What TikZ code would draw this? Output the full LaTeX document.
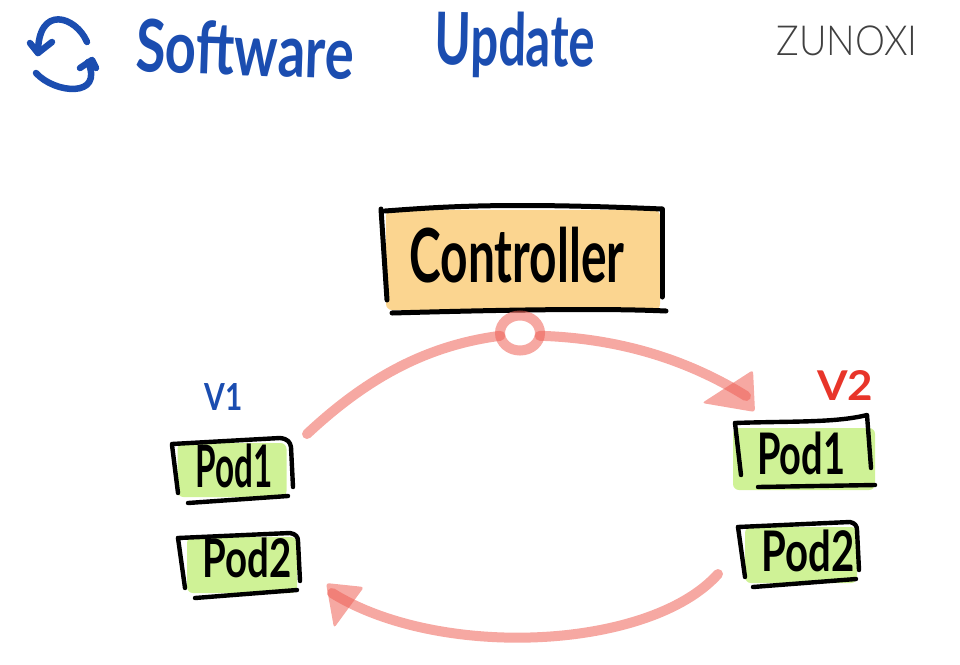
\documentclass[tikz,border=0pt]{standalone}
\usepackage{fontspec}
\usepackage{graphicx}
\usetikzlibrary{shapes.geometric}
\setmainfont{Lato}
\newfontfamily\thinfont{Lato Light}
\definecolor{inkblue}{HTML}{1B4DB0}
\definecolor{inkred}{HTML}{E8352A}
\definecolor{salmon}{HTML}{EE6055}
\definecolor{orangefill}{HTML}{FBD590}
\definecolor{greenfill}{HTML}{CFF296}
\newcommand{\fitbox}[3]{\resizebox*{#1pt}{#2pt}{#3}}
\tikzset{
  x=1pt,y=-1pt,
  hand/.style={draw=black,line width=5pt,line cap=round,line join=round},
  handthin/.style={hand,line width=4.4pt},
  blueink/.style={draw=inkblue,line width=6.5pt,line cap=round,line join=round},
  flow/.style={draw=salmon,opacity=.55,line width=10pt,line cap=round,line join=round},
  flowtip/.style={fill=salmon,opacity=.55,rounded corners=3pt},
  txt/.style={inner sep=0pt,outer sep=0pt},
  swatch/.style={inner sep=0pt,outer sep=0pt,rounded corners=6pt},
}
\begin{document}
\begin{tikzpicture}
\useasboundingbox (0,0) rectangle (960,664);
% refresh icon
\coordinate (icA) at (87,42); \coordinate (icB) at (38,53);
\coordinate (icC) at (36,73); \coordinate (icD) at (88,62);
\draw[blueink] (icA) .. controls (76,16) and (38,4) .. (icB);
\draw[blueink] (30,43) -- (icB) -- (52,42);
\draw[blueink] (icC) .. controls (55,94) and (104,98) .. (icD);
\draw[blueink] (80,68) -- (92,60) -- (96,68);
% title
\node[txt,text=inkblue,rotate=-2] (ttlA) at (245,49) {\fitbox{218}{54}{\bfseries Software}};
\node[txt,text=inkblue,rotate=-1] (ttlB) at (515,45) {\fitbox{160}{66}{\bfseries Update}};
\node[txt,text=black!75] (brand) at (847,41) {\fitbox{141}{30}{\thinfont ZUNOXI}};
% controller
\node[swatch,fill=orangefill,minimum width=274pt,minimum height=100pt] (ctl) at (523,260) {};
\draw[hand] (381,209) -- (387,300);
\draw[hand] (385,211) .. controls (440,207) and (500,202) .. (662,209);
\draw[hand] (662,209) -- (662,297);
\draw[hand] (392,313) .. controls (500,310) and (600,308) .. (666,311);
\node[txt] (ctltxt) at (517,255) {\fitbox{215}{56}{\bfseries Controller}};
% V1 pods
\node[swatch,fill=greenfill,minimum width=109pt,minimum height=54pt] (aone) at (232,470) {};
\draw[handthin] (172,445) -- (178,493);
\draw[handthin] (172,444) -- (280,438) .. controls (288,439) and (290,442) .. (291,447) -- (293,487);
\draw[handthin] (188,503) -- (288,496);
\node[txt] (aonetxt) at (234,466) {\fitbox{77}{44}{\bfseries Pod1}};
\node[swatch,fill=greenfill,minimum width=110pt,minimum height=56pt] (atwo) at (242,565) {};
\draw[handthin] (178,538) -- (185,588);
\draw[handthin] (178,538) -- (290,533) .. controls (296,534) and (298,537) .. (298,541) -- (300,581);
\draw[handthin] (195,598) -- (297,590);
\node[txt] (atwotxt) at (247,558) {\fitbox{89}{40}{\bfseries Pod2}};
% V2 pods
\node[swatch,fill=greenfill,minimum width=142pt,minimum height=62pt] (bone) at (804,459) {};
\draw[handthin] (735,423) -- (741,475);
\draw[handthin] (735,423) .. controls (790,421) and (835,423) .. (867,415) -- (871,468);
\draw[handthin] (758,487) -- (875,485);
\node[txt] (bonetxt) at (801,453) {\fitbox{88}{43}{\bfseries Pod1}};
\node[swatch,fill=greenfill,minimum width=112pt,minimum height=56pt] (btwo) at (801,555) {};
\draw[handthin] (738,527) -- (745,577);
\draw[handthin] (738,527) -- (850,522) .. controls (855,523) and (857,526) .. (857,530) -- (859,570);
\draw[handthin] (753,587) -- (856,579);
\node[txt] (btwotxt) at (808,551) {\fitbox{93}{42}{\bfseries Pod2}};
% version labels
\node[txt,text=inkblue] (vone) at (224,397) {\fitbox{38}{27}{\bfseries V1}};
\node[txt,text=inkred] (vtwo) at (845,385) {\fitbox{56}{30}{\bfseries V2}};
% flow
\node[ellipse,draw=salmon,opacity=.55,line width=10pt,minimum width=40pt,minimum height=35pt,inner sep=0pt,outer sep=0pt] (ring) at (520,333) {};
\coordinate (startA) at (307,434);
\coordinate (startB) at (718,574);
\coordinate (tipA) at (746,396);
\coordinate (tipB) at (332,593);
\draw[flow] (startA) .. controls (370,375) and (430,345) .. (ring.188);
\draw[flow] (ring.-8) .. controls (610,338) and (680,355) .. (tipA);
\fill[flowtip] (753,370) -- (702,403) -- (755,412) -- cycle;
\draw[flow] (startB) .. controls (650,650) and (440,660) .. (tipB);
\fill[flowtip] (326,583) -- (364,587) -- (334,628) -- cycle;
\end{tikzpicture}
\end{document}
